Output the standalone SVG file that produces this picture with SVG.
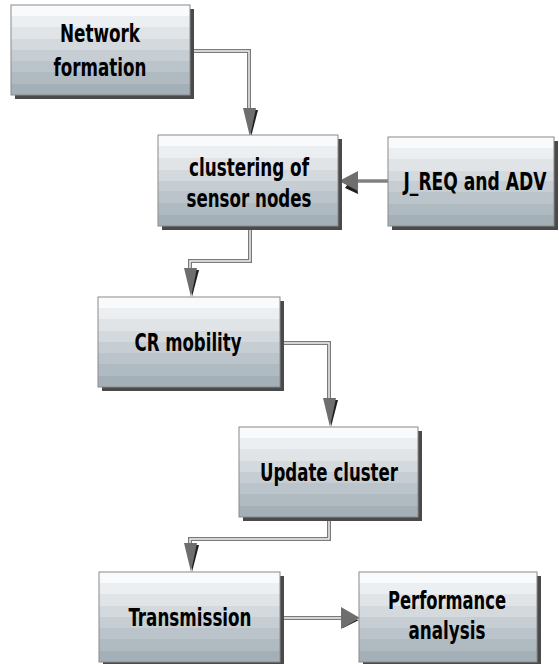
<svg xmlns="http://www.w3.org/2000/svg" width="559" height="664" viewBox="0 0 559 664">
<defs>
<linearGradient id="g" x1="0" y1="0" x2="0" y2="1">
<stop offset="0" stop-color="#f8fafb"/>
<stop offset="0.12" stop-color="#f8fafb"/>
<stop offset="0.12" stop-color="#eceff1"/>
<stop offset="0.25" stop-color="#eceff1"/>
<stop offset="0.25" stop-color="#e0e4e7"/>
<stop offset="0.38" stop-color="#e0e4e7"/>
<stop offset="0.38" stop-color="#d4d9dd"/>
<stop offset="0.5" stop-color="#d4d9dd"/>
<stop offset="0.5" stop-color="#c7ced3"/>
<stop offset="0.62" stop-color="#c7ced3"/>
<stop offset="0.62" stop-color="#bbc4ca"/>
<stop offset="0.75" stop-color="#bbc4ca"/>
<stop offset="0.75" stop-color="#afbac1"/>
<stop offset="0.88" stop-color="#afbac1"/>
<stop offset="0.88" stop-color="#a4b0b8"/>
<stop offset="1" stop-color="#a4b0b8"/>
</linearGradient>
</defs>
<style>
.box{fill:url(#g);stroke:#8a8a8a;stroke-width:1}
.sh{fill:#4a4a4a}
.t{font-family:"DejaVu Sans Condensed","DejaVu Sans",sans-serif;font-weight:bold;font-size:24px;fill:#000;text-anchor:middle}
.lo{fill:none;stroke:#7a7a7a;stroke-width:4}
.li{fill:none;stroke:#f4f4f4;stroke-width:1.4}
.ls{fill:none;stroke:#808080;stroke-width:3.5}
.ah{fill:#6e6e6e}
.ad{fill:#1e1e1e}
</style>
<g id="connectors">
<path class="lo" d="M190 51 H249 V110"/>
<path class="li" d="M190 51 H249 V110"/>
<polygon class="ad" points="251,110 258,110 251,137"/>
<polygon class="ah" points="243,108 256,108 250,137"/>

<path class="ls" d="M388 181 H356"/>
<polygon class="ad" points="356,173 358,194 345,188"/>
<polygon class="ah" points="339,181 358,171 358,191"/>

<path class="lo" d="M250 226 V261 H190 V270"/>
<path class="li" d="M250 226 V261 H190 V270"/>
<polygon class="ad" points="192,270 199,270 192,297"/>
<polygon class="ah" points="184,268 197,268 191,297"/>

<path class="lo" d="M280 343 H329 V400"/>
<path class="li" d="M280 343 H329 V400"/>
<polygon class="ad" points="331,400 338,400 331,427"/>
<polygon class="ah" points="323,398 336,398 330,427"/>

<path class="lo" d="M329 517 V539 H190 V545"/>
<path class="li" d="M329 517 V539 H190 V545"/>
<polygon class="ad" points="192,545 199,545 192,572"/>
<polygon class="ah" points="184,543 197,543 191,572"/>

<path class="lo" d="M280 618 H343"/>
<path class="li" d="M280 618 H343"/>
<polygon class="ad" points="343,620 343,628 359,620"/>
<polygon class="ah" points="341,607 341,629 360,618"/>
</g>
<g id="n1">
<rect class="sh" x="15" y="9" width="179" height="90"/>
<rect class="box" x="11" y="5" width="179" height="90"/>
<text class="t" x="100" y="42" textLength="80" lengthAdjust="spacingAndGlyphs">Network</text>
<text class="t" x="100" y="76" textLength="93" lengthAdjust="spacingAndGlyphs">formation</text>
</g>
<g id="n2">
<rect class="sh" x="162" y="139" width="180" height="91"/>
<rect class="box" x="158" y="135" width="180" height="91"/>
<text class="t" x="249" y="176" textLength="120" lengthAdjust="spacingAndGlyphs">clustering of</text>
<text class="t" x="249" y="207" textLength="125" lengthAdjust="spacingAndGlyphs">sensor nodes</text>
</g>
<g id="n3">
<rect class="sh" x="392" y="141" width="166" height="89"/>
<rect class="box" x="388" y="137" width="166" height="89"/>
<text class="t" style="font-size:18px" transform="translate(475,190) scale(1,1.33)" x="0" y="0" textLength="143" lengthAdjust="spacingAndGlyphs">J_REQ and ADV</text>
</g>
<g id="n4">
<rect class="sh" x="102" y="301" width="182" height="90"/>
<rect class="box" x="98" y="297" width="182" height="90"/>
<text class="t" x="188" y="351" textLength="107" lengthAdjust="spacingAndGlyphs">CR mobility</text>
</g>
<g id="n5">
<rect class="sh" x="243" y="431" width="179" height="90"/>
<rect class="box" x="239" y="427" width="179" height="90"/>
<text class="t" x="329" y="481" textLength="138" lengthAdjust="spacingAndGlyphs">Update cluster</text>
</g>
<g id="n6">
<rect class="sh" x="103" y="576" width="181" height="90"/>
<rect class="box" x="99" y="572" width="181" height="90"/>
<text class="t" x="190" y="626" textLength="123" lengthAdjust="spacingAndGlyphs">Transmission</text>
</g>
<g id="n7">
<rect class="sh" x="363" y="576" width="178" height="90"/>
<rect class="box" x="359" y="572" width="178" height="90"/>
<text class="t" x="447" y="609" textLength="118" lengthAdjust="spacingAndGlyphs">Performance</text>
<text class="t" x="447" y="639" textLength="77" lengthAdjust="spacingAndGlyphs">analysis</text>
</g>
</svg>
